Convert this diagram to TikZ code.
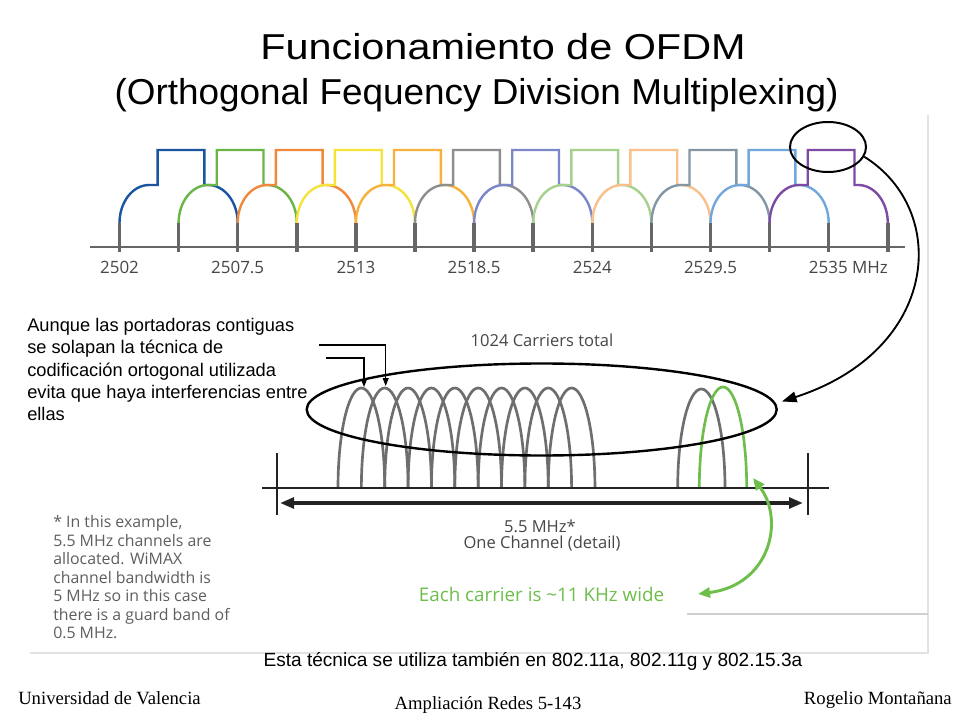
\documentclass[tikz,border=0pt]{standalone}
\usepackage{fontspec}
\setmainfont{Liberation Sans}
\newfontfamily\osf{Open Sans}
\newfontfamily\arf{Liberation Sans}
\newfontfamily\titlefa[FakeStretch=1.15]{Liberation Sans}
\newfontfamily\titlefb[FakeStretch=1.025]{Liberation Sans}
\newfontfamily\tmf{Liberation Serif}
\usetikzlibrary{arrows.meta,shapes.geometric}
\definecolor{chA}{HTML}{1A56A0}
\definecolor{chB}{HTML}{6BB547}
\definecolor{chC}{HTML}{F0893A}
\definecolor{chD}{HTML}{F5E23A}
\definecolor{chE}{HTML}{F7B23B}
\definecolor{chF}{HTML}{8E8E8E}
\definecolor{chG}{HTML}{7C87C9}
\definecolor{chH}{HTML}{A6D08C}
\definecolor{chI}{HTML}{F9C08C}
\definecolor{chJ}{HTML}{8396A4}
\definecolor{chK}{HTML}{72A7DB}
\definecolor{chL}{HTML}{7D4BA5}
\definecolor{tickgray}{HTML}{666666}
\definecolor{lblgray}{HTML}{474747}
\definecolor{notegray}{HTML}{5E5E5E}
\definecolor{carriergray}{HTML}{6E6E6E}
\definecolor{carriergreen}{HTML}{6DBE4B}
\definecolor{framegray}{HTML}{E2E2E2}
\definecolor{framegray2}{HTML}{CFCFCF}
\definecolor{darkline}{HTML}{222222}
\tikzset{
  chan/.style={line width=1.8pt, line join=miter},
  tickmark/.style={draw=tickgray, line width=2.6pt},
  axisline/.style={draw=tickgray, line width=2.2pt},
  freqlbl/.style={font=\osf\fontsize{12.7}{14}\selectfont, text=lblgray, inner sep=0, anchor=base},
  carrier/.style={draw=carriergray, line width=2pt},
  carrierg/.style={draw=carriergreen, line width=2pt},
  chanline/.style={draw=darkline, line width=2.2pt},
  dblarrow/.style={draw=darkline, line width=2.6pt, {Triangle[length=10.5pt,width=8pt]}-{Triangle[length=10.5pt,width=8pt]}},
  bigarrow/.style={draw=black, line width=1.4pt, -{Triangle[length=11pt,width=8pt]}},
  garrow/.style={draw=carriergreen, line width=2.2pt, {Triangle[length=9pt,width=7.5pt]}-{Triangle[length=9pt,width=7.5pt]}},
  callout/.style={draw=black, line width=0.8pt, -{Triangle[length=6pt,width=4.5pt]}},
  ringshape/.style={draw=black, ellipse, inner sep=0},
  infotext/.style={font=\osf\fontsize{12.4}{14}\selectfont, text=lblgray, inner sep=0, anchor=base},
  greentext/.style={font=\osf\fontsize{14.1}{16}\selectfont, text=carriergreen, inner sep=0, anchor=base},
  notetext/.style={font=\osf\fontsize{11.9}{14}\selectfont, text=notegray, inner sep=0, anchor=base west},
  blacktext/.style={font=\arf\fontsize{13.7}{16}\selectfont, text=black, inner sep=0, anchor=base west},
  titletexta/.style={font=\titlefa\fontsize{27}{30}\selectfont, text=black, inner sep=0, anchor=base},
  titletextb/.style={font=\titlefb\fontsize{27}{30}\selectfont, text=black, inner sep=0, anchor=base},
  bottomtext/.style={font=\arf\fontsize{14.3}{16}\selectfont, text=black, inner sep=0, anchor=base},
  foottext/.style={font=\tmf\fontsize{14}{16}\selectfont, text=black, inner sep=0, anchor=base}
}
\begin{document}
\begin{tikzpicture}[x=0.75pt,y=-0.75pt]
\useasboundingbox (0,0) rectangle (960,720);
\fill[white] (0,0) rectangle (960,720);

% faint frame of the embedded figure
\draw[framegray, line width=0.9pt] (928,115) -- (928,653) -- (30,653);
\draw[framegray2, line width=1.4pt] (687,614) -- (928,614);

% title
\node[titletexta] (title1) at (503,60) {Funcionamiento de OFDM};
\node[titletextb] (title2) at (476.5,104.5) {(Orthogonal Fequency Division Multiplexing)};

% channel spectrum
\foreach \k/\cl in {0/chA,1/chB,2/chC,3/chD,4/chE,5/chF,6/chG,7/chH,8/chI,9/chJ,10/chK,11/chL} {
  \pgfmathsetmacro\t{119.5+59.1*(\k+1)}
  \pgfmathsetmacro\xa{\t-59.1}
  \pgfmathsetmacro\xb{\t-21}
  \pgfmathsetmacro\xc{\t+25.8}
  \pgfmathsetmacro\xd{\t+29.55}
  \draw[chan, draw=\cl] (\xa,223) arc[start angle=180,end angle=270,x radius=29.55,y radius=38]
     -- (\xb,185) -- (\xb,150) -- (\xc,150) -- (\xc,185) -- (\xd,185)
     arc[start angle=270,end angle=360,x radius=29.55,y radius=38];
}
\draw[axisline] (90,247) -- (905,247);
\foreach \i in {0,...,13} {
  \pgfmathsetmacro\t{119.5+59.1*\i}
  \draw[tickmark] (\t,223) -- (\t,252);
}
\foreach \i/\lab in {0/2502,2/2507.5,4/2513,6/2518.5,8/2524,10/2529.5} {
  \pgfmathsetmacro\t{119.5+59.1*\i}
  \node[freqlbl] (f\i) at (\t,273.3) {\lab};
}
\node[freqlbl, anchor=base west] (f12) at (808.7,273.3) {2535 MHz};

% zoom ring
\node[ringshape, line width=1.5pt, minimum width=57pt, minimum height=37.5pt] (ring) at (828,147) {};

% detail: carriers
\foreach \j in {0,...,9} {
  \pgfmathsetmacro\fx{338+23.36*\j}
  \draw[carrier] (\fx,488) arc[start angle=180,end angle=360,x radius=23.36,y radius=100];
}
\draw[carrier] (677.7,488) arc[start angle=180,end angle=360,x radius=23.65,y radius=99];
\draw[carrierg] (699.3,488) arc[start angle=180,end angle=360,x radius=23.7,y radius=101];

\node[ringshape, line width=1.8pt, minimum width=352.5pt, minimum height=69pt] (bigell) at (541.7,409.5) {};

\draw[chanline] (262,488) -- (829,488);
\coordinate (lt0) at (277,453); \coordinate (lt1) at (277,515);
\coordinate (rt0) at (808,453); \coordinate (rt1) at (808,515);
\draw[chanline] (lt0) -- (lt1);
\draw[chanline] (rt0) -- (rt1);
\coordinate (dL) at (280,503);
\coordinate (dR) at (803,503);
\draw[dblarrow] (dL) -- (dR);

% big arrow from ring to detail ellipse
\draw[bigarrow] (ring.-15) .. controls (950,210) and (940,350) .. ([shift={(4,-8)}]bigell.east);

% texts of the detail
\node[infotext] (total) at (542,346) {1024 Carriers total};
\node[infotext] (mhz) at (540,532.7) {5.5 MHz*};
\node[infotext] (onech) at (542,548) {One Channel (detail)};
\node[greentext] (each) at (541.5,601) {Each carrier is \textasciitilde11 KHz wide};

% green double arrow
\coordinate (gtop) at (753,478);
\coordinate (gbot) at (698,594);
\draw[garrow] (gtop) .. controls (785,520) and (770,585) .. (gbot);

% note
\node[notetext] (n1) at (53,527.8) {* In this example,};
\node[notetext] (n2) at (53,546.3) {5.5 MHz channels are};
\node[notetext] (n3) at (53,564.8) {allocated. WiMAX};
\node[notetext] (n4) at (53,583.3) {channel bandwidth is};
\node[notetext] (n5) at (53,601.8) {5 MHz so in this case};
\node[notetext] (n6) at (53,620.3) {there is a guard band of};
\node[notetext] (n7) at (53,638.8) {0.5 MHz.};

% left explanation
\node[blacktext] (t1) at (27,331.7) {Aunque las portadoras contiguas};
\node[blacktext] (t2) at (27,353.9) {se solapan la técnica de};
\node[blacktext] (t3) at (27,376.1) {codificación ortogonal utilizada};
\node[blacktext] (t4) at (27,398.3) {evita que haya interferencias entre};
\node[blacktext] (t5) at (27,420.5) {ellas};
\coordinate (ca0) at (319,345); \coordinate (ca1) at (385.7,386);
\draw[callout] (ca0) -| (ca1);
\coordinate (cb0) at (326,358); \coordinate (cb1) at (364,387);
\draw[callout] (cb0) -| (cb1);

% bottom and footer
\node[bottomtext] (also) at (533,666) {Esta técnica se utiliza también en 802.11a, 802.11g y 802.15.3a};
\node[foottext, anchor=base west] (uv) at (18,704) {Universidad de Valencia};
\node[foottext] (amp) at (488,709) {Ampliación Redes 5-143};
\node[foottext, anchor=base east] (rm) at (952,704) {Rogelio Montañana};
\end{tikzpicture}
\end{document}
